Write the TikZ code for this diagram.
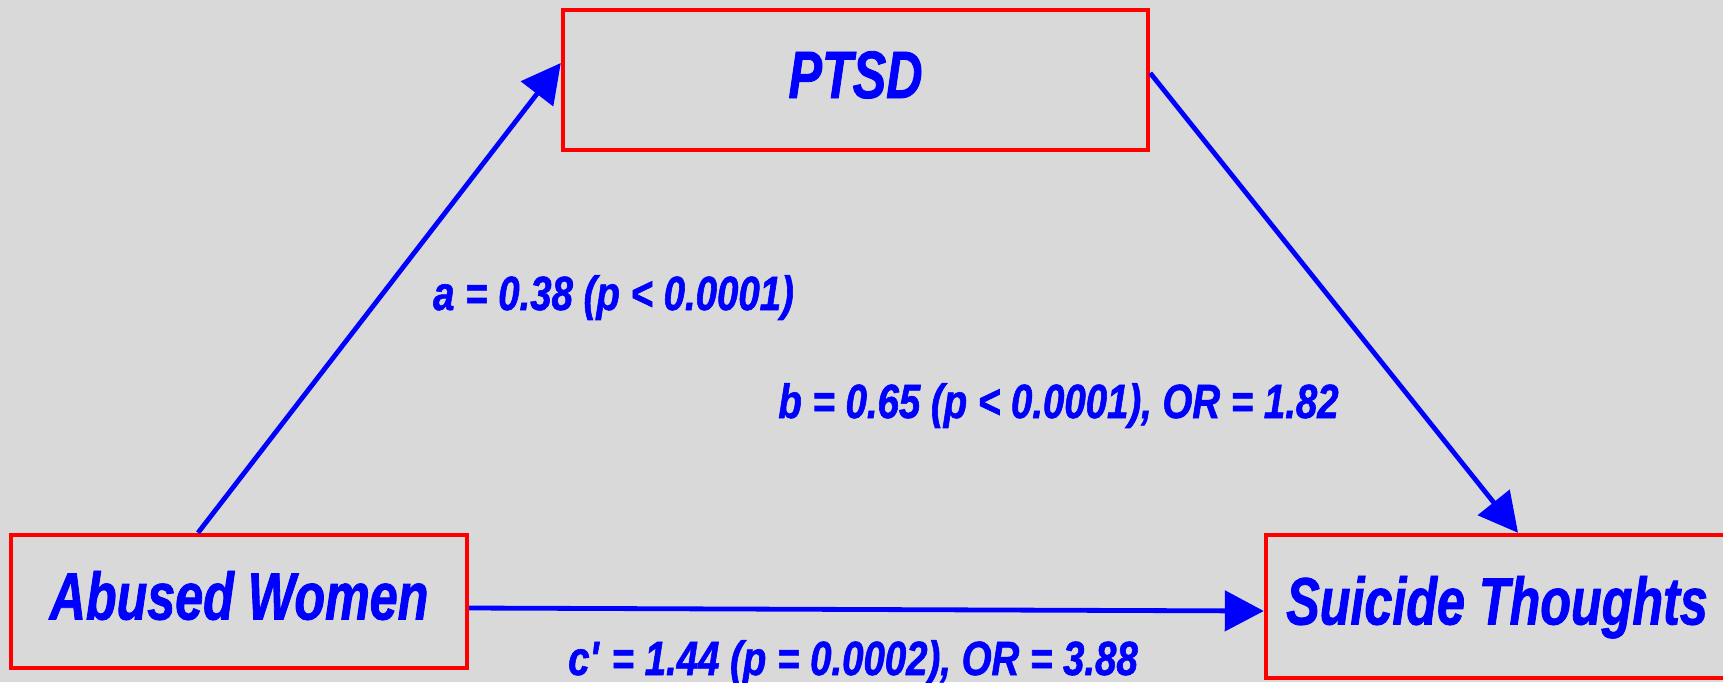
\documentclass[tikz,border=0pt]{standalone}
\usepackage{fontspec}
\setmainfont{Liberation Sans}[FakeStretch=0.75, FakeBold=1.2]
\newfontfamily\coeffont{Liberation Sans}[FakeStretch=0.8, FakeBold=1.2]
\usetikzlibrary{arrows.meta}
\definecolor{slide gray}{RGB}{217,217,217}
\tikzset{var node/.style={rectangle, draw=red, line width=2.2pt,
    text=blue, font=\fontsize{33.5}{36}\selectfont\bfseries\itshape,
    text height=24pt, text depth=6pt}}
\tikzset{path edge/.style={draw=blue, line width=2.4pt, -{Triangle[length=19.5pt, width=20pt]}}}
\tikzset{coef label/.style={text=blue, anchor=base,
    font=\coeffont\fontsize{24}{26}\selectfont\bfseries\itshape}}

\begin{document}
\begin{tikzpicture}
  [x=0.5pt, y=-0.5pt]
  \clip (0,0) rectangle (1723,682);
  \fill [slide gray] (0,0) rectangle (1723,682);

  \node [var node, minimum width=292.5pt, minimum height=70pt]   (ptsd)    at ( 855.5,  80)   {PTSD};
  \node [var node, minimum width=228pt,   minimum height=66.5pt] (abused)  at ( 239,   601.5) {Abused Women};
  \node [var node, minimum width=231pt,   minimum height=71.5pt] (suicide) at (1497,   606.5) {Suicide Thoughts};

  \draw [path edge] ([xshift=-20.5pt]abused.north) to ([yshift=8.5pt]ptsd.west);
  \draw [path edge] ([yshift=3.5pt]ptsd.east)      to ([xshift=10.5pt]suicide.north);
  \draw [path edge] ([yshift=-3.25pt]abused.east)  to ([yshift=-2.25pt]suicide.west);

  \node [coef label] (a coef)  at ( 613.5, 310) {a = 0.38 (p < 0.0001)};
  \node [coef label] (b coef)  at (1058.5, 418) {b = 0.65 (p < 0.0001), OR = 1.82};
  \node [coef label] (c coef)  at ( 853,   675) {c\textquotesingle{} = 1.44 (p = 0.0002), OR = 3.88};
\end{tikzpicture}
\end{document}
